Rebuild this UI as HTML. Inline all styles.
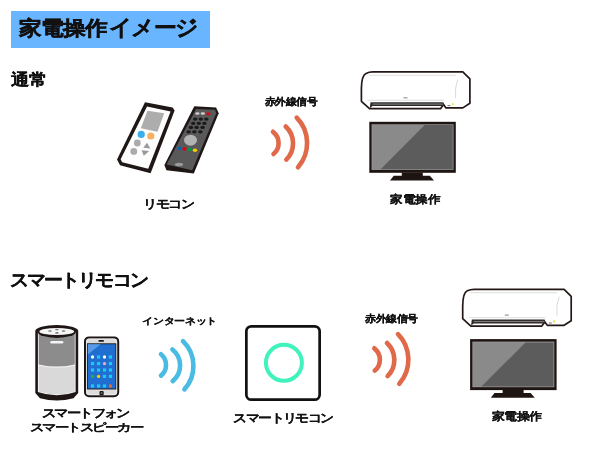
<!DOCTYPE html>
<html><head><meta charset="utf-8">
<style>
html,body{margin:0;padding:0;background:#fff;width:600px;height:450px;overflow:hidden;position:relative}
.t{position:absolute;-webkit-text-stroke:0.3px #111;filter:grayscale(1);font-family:"Liberation Sans",sans-serif;font-weight:bold;line-height:1;white-space:nowrap;color:#111}
svg{position:absolute;left:0;top:0}
/*fit*/
#t0{transform-origin:0px -2px;transform:translate(0.20px,2.40px) scale(1.003,0.888)}
#t12{transform-origin:1px 1px;transform:translate(2.00px,-0.60px) scale(0.902,0.869)}
#t1{transform-origin:0px -1px;transform:translate(-0.30px,1.00px) scale(1.038,0.911)}
#t2{transform-origin:0px -1px;transform:translate(-0.20px,0.50px) scale(1.024,0.955)}
#t3{transform-origin:3px 1px;transform:translate(0.00px,0.80px) scale(1.011,0.867)}
#t4{transform-origin:0px -1px;transform:translate(0.20px,-0.50px) scale(0.976,0.857)}
#t5{transform-origin:1px 2px;transform:translate(-0.30px,-0.70px) scale(0.988,0.941)}
#t6{transform-origin:1px 0px;transform:translate(-0.70px,-1.00px) scale(1.029,0.845)}
#t7{transform-origin:0px -1px;transform:translate(0.00px,0.50px) scale(1.035,0.955)}
#t8{transform-origin:1px 1px;transform:translate(0.10px,-1.10px) scale(1.017,0.858)}
#t9{transform-origin:1px 0px;transform:translate(-0.30px,0.10px) scale(1.031,0.792)}
#t10{transform-origin:1px 1px;transform:translate(0.50px,0.30px) scale(1.017,0.883)}
#t11{transform-origin:0px -1px;transform:translate(0.80px,0.00px) scale(0.965,0.821)}
/*endfit*/
</style></head><body>
<svg width="600" height="450" viewBox="0 0 600 450">
  <!-- title box -->
  <rect x="11" y="11" width="199" height="37" fill="#6ab5ff"/>

  <!-- left remote (white) -->
  <polygon points="145,102.3 172.6,107.5 174.6,110.6 150.6,173.2 120,165.3 117,159.5" fill="#1e1715"/>
  <polygon points="147,106.6 170.6,111.5 148.2,168.8 122.2,162.2 120.6,159.2" fill="#fdfdfd"/>
  <polygon points="147.5,110.8 164.2,113.3 157.5,131.7 140.8,128.3" fill="#adadad"/>
  <circle cx="141.2" cy="134.4" r="3.6" fill="#3aaee8"/>
  <circle cx="150.8" cy="136" r="3.6" fill="#f7b15e"/>
  <circle cx="137.3" cy="143" r="3.4" fill="#ababab"/>
  <circle cx="133.8" cy="151.4" r="3.4" fill="#ababab"/>
  <polygon points="147,142.8 143.3,147.8 150.4,148.5" fill="#9a9a9a"/>
  <polygon points="141.6,150.2 149.2,151 143.8,155.8" fill="#9a9a9a"/>

  <!-- right remote (dark) -->
  <polygon points="194.3,106.2 216.1,107.4 218.7,113.2 193.8,173.4 166.4,170.2 164.4,165" fill="#1e1715"/>
  <polygon points="196.1,108.9 214.9,109.8 216.2,113.3 192.2,170.2 166.6,164.6" fill="#595959"/>
  <ellipse cx="197.4" cy="113.5" rx="2.2" ry="1.35" fill="#cfcfcf"/>
  <ellipse cx="202.8" cy="113.5" rx="2.2" ry="1.35" fill="#cfcfcf"/>
  <ellipse cx="208.3" cy="113.8" rx="2.2" ry="1.35" fill="#e60012"/>
  <g fill="#1a1a1a">
    <ellipse cx="195.2" cy="119.1" rx="2.25" ry="1.65"/><ellipse cx="200.8" cy="119.1" rx="2.25" ry="1.65"/><ellipse cx="206.3" cy="119.1" rx="2.25" ry="1.65"/>
    <ellipse cx="193.2" cy="123.3" rx="2.25" ry="1.65"/><ellipse cx="198.8" cy="123.3" rx="2.25" ry="1.65"/><ellipse cx="204.4" cy="123.3" rx="2.25" ry="1.65"/>
    <ellipse cx="190.9" cy="127.4" rx="2.25" ry="1.65"/><ellipse cx="196.6" cy="127.4" rx="2.25" ry="1.65"/><ellipse cx="202.6" cy="127.4" rx="2.25" ry="1.65"/>
    <ellipse cx="188.6" cy="131.8" rx="2.25" ry="1.65"/><ellipse cx="194.3" cy="131.8" rx="2.25" ry="1.65"/><ellipse cx="200.4" cy="131.8" rx="2.25" ry="1.65"/>
  </g>
  <ellipse cx="190.5" cy="140.2" rx="6.5" ry="5.5" fill="#b3b3b3"/>
  <ellipse cx="179.5" cy="148.5" rx="2.2" ry="1.8" fill="#0068b7"/>
  <ellipse cx="184.5" cy="149" rx="2.2" ry="1.8" fill="#e60012"/>
  <ellipse cx="189.8" cy="149.5" rx="2.2" ry="1.8" fill="#009944"/>
  <ellipse cx="195" cy="150.3" rx="2.2" ry="1.8" fill="#f5d000"/>
  <ellipse cx="179" cy="164.5" rx="4.2" ry="1.8" fill="#9a9a9a"/>

  <!-- IR waves group (top) -->
  <g id="ir" fill="none" stroke="#e0694a" stroke-width="4.6" stroke-linecap="round">
    <path d="M273,131.8 A14.3,14.3 0 0 1 273.5,154.1"/>
    <path d="M285.7,126.5 A23,23 0 0 1 286.3,159.6"/>
    <path d="M296.7,117.6 A36.5,36.5 0 0 1 298,167.2"/>
  </g>

  <!-- AC top -->
  <g id="ac">
    <path d="M372.8,71.9 L462.8,71.9 L469.9,78.9 L469.9,103.3 L462.8,107.9 L446,107.9 L443.5,104.5 L440.5,108.7 L369.5,108.7 L361.4,101.3 L361.4,88 C361.6,78 363,74.8 366,73.4 C368,72.4 370,71.9 372.8,71.9 Z" fill="#fff" stroke="#231815" stroke-width="1.7" stroke-linejoin="round"/>
    <line x1="369" y1="75.3" x2="456" y2="75.3" stroke="#cfcfcf" stroke-width="0.7"/>
    <line x1="367.5" y1="100.3" x2="444" y2="100.3" stroke="#cfcfcf" stroke-width="0.7"/>
    <path d="M457.8,79.4 Q454.5,88 455.6,98.3" fill="none" stroke="#cfcfcf" stroke-width="0.8"/>
    <path d="M370.5,102.2 L443.3,102.2 L444.3,104.5 L443.3,106 L372.5,106 L369.8,108.2 Z" fill="#2d2826"/>
    <rect x="372.5" y="103.5" width="70.5" height="1.2" fill="#7a7a7a"/>
    <rect x="403.5" y="97" width="4" height="1.5" fill="#aaa"/>
    <circle cx="452.8" cy="104.1" r="0.9" fill="#c8e000"/>
    <rect x="447.5" y="105.2" width="3" height="0.9" fill="#666"/>
  </g>

  <!-- TV top -->
  <g id="tv">
    <rect x="369.3" y="121.8" width="86.5" height="51" fill="#1e1512"/>
    <rect x="371.6" y="124.3" width="81.9" height="45.6" fill="#9a9a9a"/>
    <polygon points="372.4,125.1 424.6,125.1 380.6,169.3 372.4,169.3" fill="#8a8a8a"/>
    <polygon points="424.6,125.1 452.7,125.1 452.7,169.3 380.6,169.3" fill="#5c5c5c"/>
    <rect x="401.8" y="172.5" width="21" height="3.6" fill="#1e1512"/>
    <polygon points="393.7,175.8 429.8,175.8 434,180.4 390,180.4" fill="#1e1512"/>
  </g>

  <!-- bottom right group -->
  <g transform="translate(101.3,216.5)" fill="none" stroke="#e0694a" stroke-width="4.6" stroke-linecap="round">
    <path d="M273,131.8 A14.3,14.3 0 0 1 273.5,154.1"/>
    <path d="M285.7,126.5 A23,23 0 0 1 286.3,159.6"/>
    <path d="M296.7,117.6 A36.5,36.5 0 0 1 298,167.2"/>
  </g>
  <g transform="translate(101.3,217.4)">
    <path d="M372.8,71.9 L462.8,71.9 L469.9,78.9 L469.9,103.3 L462.8,107.9 L446,107.9 L443.5,104.5 L440.5,108.7 L369.5,108.7 L361.4,101.3 L361.4,88 C361.6,78 363,74.8 366,73.4 C368,72.4 370,71.9 372.8,71.9 Z" fill="#fff" stroke="#231815" stroke-width="1.7" stroke-linejoin="round"/>
    <line x1="369" y1="75.3" x2="456" y2="75.3" stroke="#cfcfcf" stroke-width="0.7"/>
    <line x1="367.5" y1="100.3" x2="444" y2="100.3" stroke="#cfcfcf" stroke-width="0.7"/>
    <path d="M457.8,79.4 Q454.5,88 455.6,98.3" fill="none" stroke="#cfcfcf" stroke-width="0.8"/>
    <path d="M370.5,102.2 L443.3,102.2 L444.3,104.5 L443.3,106 L372.5,106 L369.8,108.2 Z" fill="#2d2826"/>
    <rect x="372.5" y="103.5" width="70.5" height="1.2" fill="#7a7a7a"/>
    <rect x="403.5" y="97" width="4" height="1.5" fill="#aaa"/>
    <circle cx="452.8" cy="104.1" r="0.9" fill="#c8e000"/>
    <rect x="447.5" y="105.2" width="3" height="0.9" fill="#666"/>
  </g>
  <g transform="translate(100.8,217.3)">
    <rect x="369.3" y="121.8" width="86.5" height="51" fill="#1e1512"/>
    <rect x="371.6" y="124.3" width="81.9" height="45.6" fill="#9a9a9a"/>
    <polygon points="372.4,125.1 424.6,125.1 380.6,169.3 372.4,169.3" fill="#8a8a8a"/>
    <polygon points="424.6,125.1 452.7,125.1 452.7,169.3 380.6,169.3" fill="#5c5c5c"/>
    <rect x="401.8" y="172.5" width="21" height="3.6" fill="#1e1512"/>
    <polygon points="393.7,175.8 429.8,175.8 434,180.4 390,180.4" fill="#1e1512"/>
  </g>

  <!-- smart speaker -->
  <g>
    <path d="M35.3,331 A21.45,6.1 0 0 1 78.2,331 L78.2,393 L73.5,398.2 Q56.75,402.6 40,398.2 L35.3,393 Z" fill="#1e1715"/>
    <path d="M37.9,331 L75.6,331 L75.6,392 Q56.75,398.6 37.9,392 Z" fill="#fafafa"/>
    <path d="M38.7,331 L74.8,331 L74.8,364.4 Q56.75,368.8 38.7,364.4 Z" fill="#8c8c8c"/>
    <path d="M38.7,365.4 Q56.75,369.8 74.8,365.4 L74.8,391.4 Q56.75,397.4 38.7,391.4 Z" fill="#d9d9d9"/>
    <ellipse cx="56.75" cy="331.8" rx="19.2" ry="6.1" fill="#1e1715"/>
    <ellipse cx="56.75" cy="331.5" rx="17.4" ry="3.6" fill="#f6f6f6"/>
    <g fill="#7a7a7a"><ellipse cx="50" cy="331" rx="1.8" ry="0.85"/><ellipse cx="56.9" cy="329.5" rx="1.8" ry="0.85"/><ellipse cx="63.5" cy="331" rx="1.8" ry="0.85"/><ellipse cx="56.9" cy="332.9" rx="1.8" ry="0.85"/></g>
    <rect x="50.3" y="340.9" width="13" height="2.5" rx="1.25" fill="#f4f4f4"/>
  </g>

  <!-- phone -->
  <g>
    <rect x="85" y="337.4" width="33.2" height="58.8" rx="4" fill="#dcdcdc" stroke="#1e1715" stroke-width="2"/>
    <rect x="86.6" y="339" width="30" height="55.6" rx="2.8" fill="none" stroke="#f4f4f4" stroke-width="0.7"/>
    <rect x="87.4" y="343.8" width="28.4" height="45.2" fill="#1f6ed0" stroke="#1e1715" stroke-width="0.9"/>
    <polygon points="87.9,344.3 100.5,344.3 87.9,354.5" fill="#5a9ae6"/>
    <rect x="98.4" y="340" width="5.6" height="1.8" rx="0.9" fill="#1e1715"/>
    <rect x="99.5" y="391" width="4.2" height="4.2" rx="1" fill="#1e1715"/>
    <rect x="100.8" y="392.3" width="1.6" height="1.6" fill="#777"/>
    <g fill="#1cc8f4"><rect x="97.0" y="355.4" width="3.2" height="3.2"/><rect x="108.8" y="355.4" width="3.2" height="3.2"/><rect x="90.9" y="362.0" width="3.2" height="3.2"/><rect x="97.0" y="362.0" width="3.2" height="3.2"/><rect x="108.8" y="362.0" width="3.2" height="3.2"/><rect x="90.9" y="368.4" width="3.2" height="3.2"/><rect x="97.0" y="368.4" width="3.2" height="3.2"/><rect x="102.9" y="368.4" width="3.2" height="3.2"/><rect x="108.8" y="368.4" width="3.2" height="3.2"/><rect x="102.9" y="374.8" width="3.2" height="3.2"/><rect x="108.8" y="374.8" width="3.2" height="3.2"/><rect x="90.9" y="384.4" width="3.2" height="3.2"/><rect x="97.0" y="384.4" width="3.2" height="3.2"/><rect x="102.9" y="384.4" width="3.2" height="3.2"/></g>
    <circle cx="92.5" cy="357" r="1.65" fill="#ffffff"/><circle cx="104.5" cy="357" r="1.65" fill="#ffffff"/><circle cx="104.5" cy="363.6" r="1.65" fill="#f4a6c6"/><circle cx="92.5" cy="376.4" r="1.65" fill="#22b04a"/><circle cx="98.6" cy="376.4" r="1.65" fill="#f6d400"/><circle cx="110.4" cy="386" r="1.65" fill="#f06a2a"/>
  </g>

  <!-- internet waves -->
  <g fill="none" stroke="#4abbe2" stroke-width="4.6" stroke-linecap="round">
    <path d="M161,354.3 A13.8,13.8 0 0 1 161,375.6"/>
    <path d="M172.4,349.5 A20.3,20.3 0 0 1 172.7,381.1"/>
    <path d="M183,341.2 A34.8,34.8 0 0 1 184.4,389.4"/>
  </g>

  <!-- smart remote -->
  <rect x="246.35" y="326.35" width="73.3" height="73.3" rx="5" fill="#fff" stroke="#111" stroke-width="2.7"/>
  <circle cx="283.9" cy="362.8" r="18" fill="none" stroke="#40f2bc" stroke-width="4"/>
</svg>

<div class="t" id="t0" style="left:19px;top:17px;font-size:22px;-webkit-text-stroke:0.6px #111">家電操作</div>
<div class="t" id="t12" style="left:107px;top:17px;font-size:25.8px;letter-spacing:-2.26px;-webkit-text-stroke:0.35px #111">イメージ</div>
<div class="t" id="t1" style="left:11px;top:70px;font-size:18px;-webkit-text-stroke:0.3px #111">通常</div>
<div class="t" id="t2" style="left:265px;top:97px;font-size:10px;letter-spacing:0.2px">赤外線信号</div>
<div class="t" id="t3" style="left:143px;top:198px;font-size:13.4px;letter-spacing:-0.44px;-webkit-text-stroke:0.12px #111">リモコン</div>
<div class="t" id="t4" style="left:390px;top:194px;font-size:13.2px;letter-spacing:-0.2px;-webkit-text-stroke:0.15px #111">家電操作</div>
<div class="t" id="t5" style="left:10px;top:272px;font-size:19px;letter-spacing:-1.64px;-webkit-text-stroke:0.3px #111">スマートリモコン</div>
<div class="t" id="t6" style="left:143px;top:317px;font-size:11.2px;letter-spacing:-0.6px;-webkit-text-stroke:0.12px #111">インターネット</div>
<div class="t" id="t7" style="left:365px;top:314px;font-size:10px;letter-spacing:0.2px">赤外線信号</div>
<div class="t" id="t8" style="left:42px;top:409px;font-size:13.4px;letter-spacing:-0.84px;-webkit-text-stroke:0.12px #111">スマートフォン</div>
<div class="t" id="t9" style="left:30px;top:422px;font-size:13.4px;letter-spacing:-0.84px;-webkit-text-stroke:0.12px #111">スマートスピーカー</div>
<div class="t" id="t10" style="left:233px;top:412px;font-size:13.4px;letter-spacing:-0.84px;-webkit-text-stroke:0.12px #111">スマートリモコン</div>
<div class="t" id="t11" style="left:491px;top:411px;font-size:13.2px;letter-spacing:-0.2px;-webkit-text-stroke:0.15px #111">家電操作</div>
</body></html>
